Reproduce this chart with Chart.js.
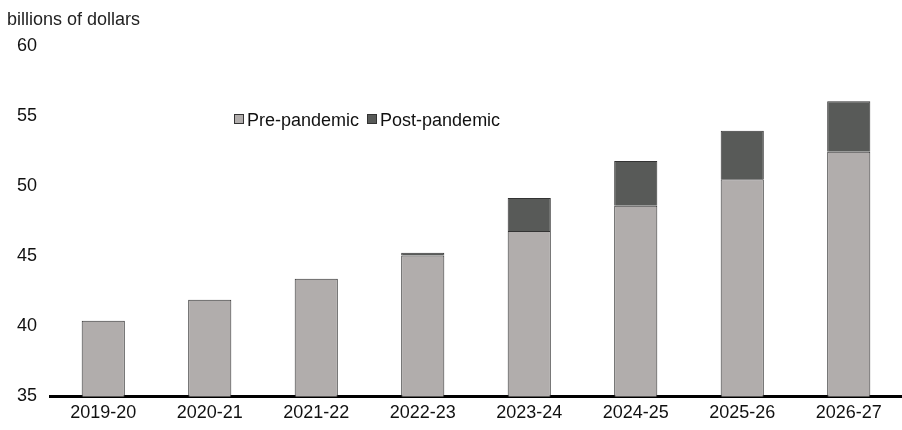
<!DOCTYPE html>
<html>
<head>
<meta charset="utf-8">
<script src="https://cdn.jsdelivr.net/npm/chart.js@4"></script>
<style>
  body { margin: 0; background: #fff; font-family: "Liberation Sans", Arial, sans-serif; }
  #wrap { position: relative; width: 902px; height: 430px; }
  #unit { position: absolute; left: 7px; top: 9px; font-size: 18px; color: #222; }
  #legend { position: absolute; left: 234px; top: 110px; font-size: 18px; color: #111; white-space: nowrap; }
  #legend span.box { display: inline-block; width: 8px; height: 8px; border: 1px solid #333; margin-right: 3px; vertical-align: 2px; }
</style>
</head>
<body>
<div id="wrap">
  <canvas id="chart" width="902" height="430"></canvas>
  <div id="unit">billions of dollars</div>
  <div id="legend"></div>
</div>
<script>
const years = ["2019-20", "2020-21", "2021-22", "2022-23", "2023-24", "2024-25", "2025-26", "2026-27"];
const prePandemic = [40.4, 41.9, 43.4, 45.05, 46.8, 48.6, 50.5, 52.45];
const postPandemic = [0, 0, 0, 0.2, 2.35, 3.2, 3.45, 3.6];
const yTicks = [35, 40, 45, 50, 55, 60];

const preColor = "#b1adac";
const postColor = "#585a58";

const legend = document.getElementById("legend");
legend.innerHTML =
  '<span class="box" style="background:' + preColor + '"></span>Pre-pandemic ' +
  '<span class="box" style="background:' + postColor + ';margin-left:3px"></span>Post-pandemic';

Chart.defaults.font.family = '"Liberation Sans", Arial, sans-serif';
Chart.defaults.font.size = 18;
Chart.defaults.color = "#111";

new Chart(document.getElementById("chart"), {
  type: "bar",
  data: {
    labels: years,
    datasets: [
      {
        label: "Pre-pandemic",
        data: prePandemic,
        backgroundColor: preColor,
        borderColor: "#333",
        borderWidth: 1,
        borderSkipped: "bottom",
      },
      {
        label: "Post-pandemic",
        data: postPandemic,
        backgroundColor: postColor,
        borderColor: "#333",
        borderWidth: 1,
        borderSkipped: "bottom",
      },
    ],
  },
  options: {
    responsive: false,
    animation: false,
    barPercentage: 0.405,
    categoryPercentage: 1,
    layout: { padding: { top: 46, left: 0, right: 0, bottom: 0 } },
    plugins: { legend: { display: false }, tooltip: { enabled: false } },
    scales: {
      x: {
        stacked: true,
        grid: { display: false, drawTicks: false },
        border: { display: true, color: "#000", width: 3 },
        ticks: { padding: 6 },
      },
      y: {
        stacked: true,
        min: 35,
        max: 60,
        afterBuildTicks: (axis) => {
          axis.ticks = yTicks.map((v) => ({ value: v }));
        },
        afterFit: (axis) => {
          axis.width = 50;
        },
        grid: { display: false, drawTicks: false },
        border: { display: false },
        ticks: { padding: 13 },
      },
    },
  },
});
</script>
</body>
</html>
